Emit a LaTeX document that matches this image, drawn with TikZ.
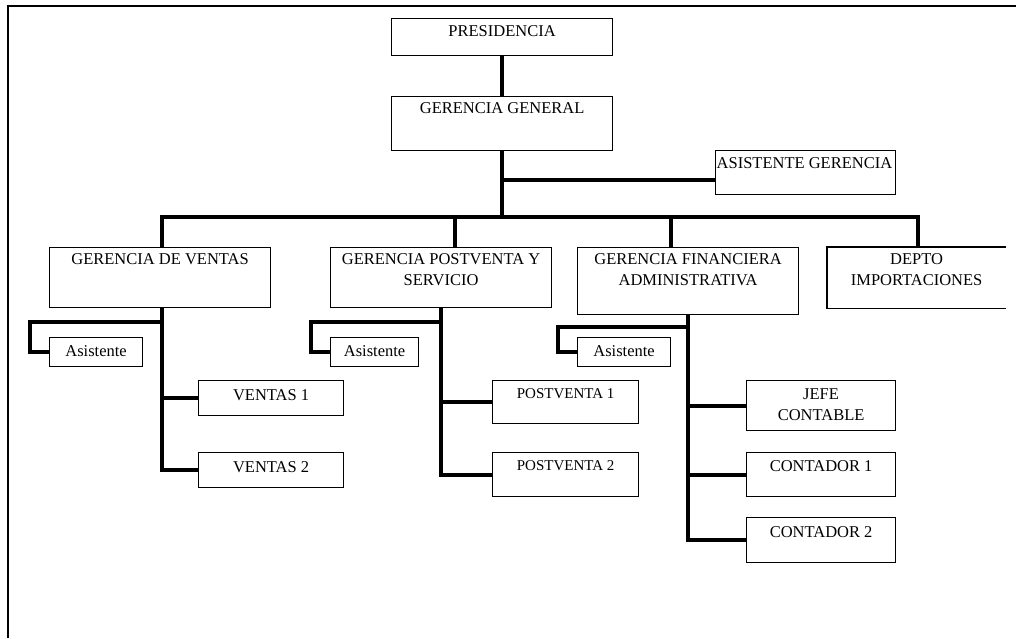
\documentclass[tikz,border=0pt]{standalone}
\usepackage{fontspec}
\setmainfont{Liberation Serif}
\begin{document}
\begin{tikzpicture}[x=1pt,y=-1pt,
  box/.style={draw, line width=1.2pt, inner sep=0pt, anchor=north west},
  lbl/.style={inner sep=0pt, anchor=north, align=center, font=\fontsize{16.5}{21}\selectfont},
  lblsm/.style={lbl, font=\fontsize{15}{19}\selectfont},
  conn/.style={line width=4pt, line join=miter},
  frameline/.style={line width=2pt}]
\useasboundingbox (0,0) rectangle (1016,638);
\draw[frameline] (7.5,638) -- (7.5,6) -- (1016,6);

% top levels
\node[box, minimum width=221pt, minimum height=37pt] (pres) at (391,18) {};
\node[lbl] (presT) at ([yshift=-7.5pt]pres.north) {PRESIDENCIA};
\node[box, minimum width=221pt, minimum height=54pt] (gg) at (391,96) {};
\node[lbl] (ggT) at ([yshift=-6.5pt]gg.north) {GERENCIA GENERAL};
\node[box, minimum width=180pt, minimum height=44pt] (asg) at (715,150) {};
\node[lbl, anchor=north west] (asgT) at ([xshift=1.5pt,yshift=-7pt]asg.north west) {ASISTENTE GERENCIA};

% second level
\node[box, minimum width=221pt, minimum height=60pt] (gv) at (49,247) {};
\node[lbl] (gvT) at ([yshift=-6.5pt]gv.north) {GERENCIA DE VENTAS};
\node[box, minimum width=221pt, minimum height=60pt] (gps) at (330,247) {};
\node[lbl] (gpsT) at ([yshift=-6.5pt]gps.north) {GERENCIA POSTVENTA Y\\SERVICIO};
\node[box, minimum width=221pt, minimum height=67pt] (gfa) at (577,247) {};
\node[lbl] (gfaT) at ([yshift=-6.5pt]gfa.north) {GERENCIA FINANCIERA\\ADMINISTRATIVA};
\node[box, draw=none, minimum width=178pt, minimum height=60pt] (depto) at (827,247) {};
\draw[line width=1.2pt] (depto.north east) -- (depto.north west) -- (depto.south west) -- (depto.south east);
\node[lbl] (deptoT) at ([yshift=-6.5pt]depto.north) {DEPTO\\IMPORTACIONES};

% assistants
\node[box, minimum width=93pt, minimum height=29pt] (a1) at (49,337) {};
\node[lbl] (a1T) at ([yshift=-8.5pt]a1.north) {Asistente};
\node[box, minimum width=88pt, minimum height=29pt] (a2) at (330,337) {};
\node[lbl] (a2T) at ([yshift=-8.5pt]a2.north) {Asistente};
\node[box, minimum width=93pt, minimum height=29pt] (a3) at (577,337) {};
\node[lbl] (a3T) at ([yshift=-8.5pt]a3.north) {Asistente};

% third level
\node[box, minimum width=145pt, minimum height=35pt] (v1) at (198,380) {};
\node[lbl] (v1T) at ([yshift=-9.5pt]v1.north) {VENTAS 1};
\node[box, minimum width=145pt, minimum height=35pt] (v2) at (198,452) {};
\node[lbl] (v2T) at ([yshift=-9.5pt]v2.north) {VENTAS 2};
\node[box, minimum width=146pt, minimum height=43pt] (p1) at (492,380) {};
\node[lblsm] (p1T) at ([yshift=-8pt]p1.north) {POSTVENTA 1};
\node[box, minimum width=146pt, minimum height=44pt] (p2) at (492,452) {};
\node[lblsm] (p2T) at ([yshift=-8pt]p2.north) {POSTVENTA 2};
\node[box, minimum width=149pt, minimum height=50pt] (jc) at (746,380) {};
\node[lbl] (jcT) at ([yshift=-8.5pt]jc.north) {JEFE\\CONTABLE};
\node[box, minimum width=149pt, minimum height=44pt] (c1) at (746,452) {};
\node[lbl] (c1T) at ([yshift=-8.5pt]c1.north) {CONTADOR 1};
\node[box, minimum width=149pt, minimum height=45pt] (c2) at (746,517) {};
\node[lbl] (c2T) at ([yshift=-9.5pt]c2.north) {CONTADOR 2};

% connectors top
\coordinate (bus) at (502,217);
\draw[conn] (pres.south) -- (gg.north);
\draw[conn] (gg.south) -- (gg.south |- bus);
\coordinate (asgIn) at ([yshift=-7pt]asg.west);
\draw[conn] (gg.south |- asgIn) -- (asgIn);

\coordinate (gvTop) at ([xshift=1.5pt]gv.north);
\coordinate (gpsTop) at ([xshift=13.5pt]gps.north);
\coordinate (gfaTop) at ([xshift=-17.5pt]gfa.north);
\coordinate (deptoTop) at ([xshift=1pt]depto.north);
\draw[conn] (gvTop) -- (gvTop |- bus) -- (deptoTop |- bus) -- (deptoTop);
\draw[conn] (gpsTop |- bus) -- (gpsTop);
\draw[conn] (gfaTop |- bus) -- (gfaTop);

% ventas
\coordinate (gvB) at ([xshift=1.5pt]gv.south);
\draw[conn] (gvB) -- (gvB |- v2.west) -- (v2.west);
\draw[conn] (gvB |- v1.west) -- (v1.west);
\coordinate (a1k) at (30,322);
\draw[conn] (gvB |- a1k) -- (a1k) |- (a1.west);

% postventa
\draw[conn] (gps.south) -- (gps.south |- p2.west) -- (p2.west);
\draw[conn] (gps.south |- p1.west) -- (p1.west);
\coordinate (a2k) at (311,322);
\draw[conn] (gps.south |- a2k) -- (a2k) |- (a2.west);

% financiera
\draw[conn] (gfa.south) -- (gfa.south |- c2.west) -- (c2.west);
\draw[conn] (gfa.south |- jc.west) -- (jc.west);
\draw[conn] (gfa.south |- c1.west) -- (c1.west);
\coordinate (a3k) at (558,327);
\draw[conn] (gfa.south |- a3k) -- (a3k) |- (a3.west);
\end{tikzpicture}
\end{document}
